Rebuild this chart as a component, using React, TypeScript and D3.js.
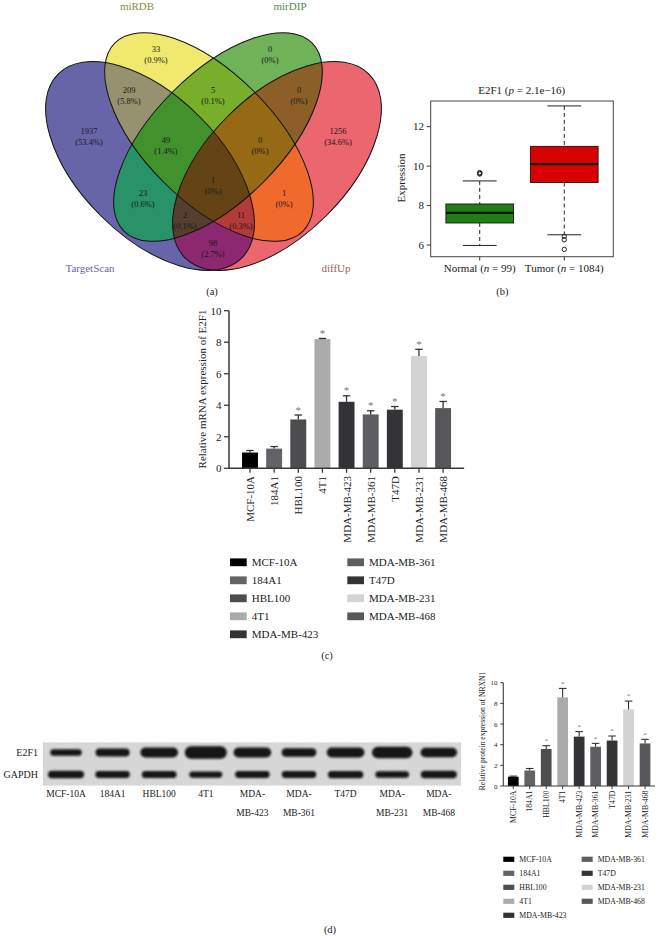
import React from 'react';
import * as d3 from 'd3';

const FONT = "'Liberation Serif', 'Times New Roman', Times, serif";

// ---------------- (a) Venn diagram data ----------------
const vennSetNames = ['TargetScan', 'miRDB', 'mirDIP', 'diffUp'];
const vennRegionKeys = ['A', 'B', 'C', 'D', 'AB', 'AC', 'AD', 'BC', 'BD', 'CD', 'ABC', 'ABD', 'ACD', 'BCD', 'ABCD'];
const vennCounts = [1937, 33, 0, 1256, 209, 23, 98, 5, 1, 0, 49, 11, 2, 0, 1];
const vennPercents = ['53.4%', '0.9%', '0%', '34.6%', '5.8%', '0.6%', '2.7%', '0.1%', '0%', '0%', '1.4%', '0.3%', '0.1%', '0%', '0%'];

// ---------------- (b) box plot data ----------------
const boxGroups = ['Normal', 'Tumor'];
const boxN = [99, 1084];
const boxWhiskerLow = [5.98, 6.52];
const boxQ1 = [7.12, 9.17];
const boxMedian = [7.63, 10.1];
const boxQ3 = [8.08, 11.0];
const boxWhiskerHigh = [9.25, 13.05];
const boxOutliers = [[9.6, 9.63, 9.67], [6.27, 6.44, 5.78]];
const boxTitleGene = 'E2F1';
const boxPValue = '2.1e\u221216';
const boxYTicks = [6, 8, 10, 12];

// ---------------- (c) / (d) bar chart data ----------------
const cellLines = ['MCF-10A', '184A1', 'HBL100', '4T1', 'MDA-MB-423', 'MDA-MB-361', 'T47D', 'MDA-MB-231', 'MDA-MB-468'];
const mrnaMean = [1.0, 1.25, 3.1, 8.2, 4.22, 3.42, 3.72, 7.12, 3.82];
const mrnaSem = [0.13, 0.13, 0.28, 0.04, 0.38, 0.23, 0.2, 0.43, 0.42];
const mrnaSignificant = [false, false, true, true, true, true, true, true, true];
const mrnaYTicks = [0, 2, 4, 6, 8, 10];

const proteinMean = [0.9, 1.5, 3.58, 8.58, 4.78, 3.8, 4.4, 7.42, 4.12];
const proteinSem = [0.06, 0.2, 0.32, 0.87, 0.48, 0.33, 0.44, 0.8, 0.4];
const proteinSignificant = [false, false, true, true, true, true, true, true, true];
const proteinYTicks = [0, 2, 4, 6, 8, 10];

// western blot
const blotRowLabels = ['E2F1', 'GAPDH'];
const blotLaneLabelLines = [['MCF-10A'], ['184A1'], ['HBL100'], ['4T1'], ['MDA-', 'MB-423'], ['MDA-', 'MB-361'], ['T47D'], ['MDA-', 'MB-231'], ['MDA-', 'MB-468']];
const e2f1BandIntensity = [0.52, 0.64, 0.8, 1.0, 0.8, 0.67, 0.8, 0.93, 0.75];
const gapdhBandIntensity = [0.6, 0.55, 0.56, 0.5, 0.55, 0.55, 0.58, 0.52, 0.6];

// ---------------- styles / layout ----------------
const vennColors = ['#6864a8', '#f0e96e', '#70b258', '#eb666e', '#96926f', '#289269', '#8c2870', '#78af2a', '#f0692d', '#8c5f28', '#41912d', '#b43a3a', '#553e2d', '#966914', '#644414'];
const vennSetLabelColors = ['#6a66aa', '#8d8d3a', '#4f8e3e', '#a25a5a'];
const vennGeom = [
  { cx: 150, cy: 166, rx: 130, ry: 70, rot: 45 },
  { cx: 209, cy: 137, rx: 133, ry: 64, rot: 45 },
  { cx: 218, cy: 137, rx: 133, ry: 64, rot: -45 },
  { cx: 277, cy: 166, rx: 130, ry: 70, rot: -45 },
];
const vennLabelPos = [
  [89, 131], [156, 49], [270, 49], [338, 131], [129, 90], [143, 193], [213, 243], [213, 90],
  [284, 193], [299, 90], [166, 140], [241, 215], [185, 215], [260, 140], [213, 180],
];
const vennSetLabelPos = [[90, 272], [137, 9.5], [290, 9.5], [336, 272]];
const barColors = ['#000000', '#636367', '#4d4d50', '#ababab', '#333336', '#5e5e62', '#343437', '#d3d3d3', '#58585c'];
const boxColors = ['#1f7e11', '#d90000'];

export default function App() {
  // ---------- Venn ----------
  const ellipseProps = (i: number) => {
    const g = vennGeom[i];
    return { cx: g.cx, cy: g.cy, rx: g.rx, ry: g.ry, transform: `rotate(${g.rot} ${g.cx} ${g.cy})` };
  };
  const regions = vennRegionKeys.map((key, k) => {
    const idx = key.split('').map((c) => 'ABCD'.indexOf(c));
    let node: any = <ellipse {...ellipseProps(idx[idx.length - 1])} fill={vennColors[k]} />;
    for (let j = idx.length - 2; j >= 0; j--) {
      node = <g clipPath={`url(#venn-clip-${idx[j]})`}>{node}</g>;
    }
    return <g key={key}>{node}</g>;
  });

  // ---------- Box plot ----------
  const bx = d3.scaleLinear().domain([0.42, 2.58]).range([430.7, 613.3]);
  const by = d3.scaleLinear().domain([5.41, 13.3]).range([256.7, 101]);
  const boxHalf = bx(0.4) - bx(0);

  // ---------- mRNA bar chart ----------
  const cx = d3.scaleBand().domain(cellLines).range([229, 464.1]).paddingInner(0.34).paddingOuter(0.54);
  const cy = d3.scaleLinear().domain([0, 10]).range([468.3, 310.7]);

  // ---------- protein bar chart ----------
  const px = d3.scaleBand().domain(cellLines).range([503.3, 655]).paddingInner(0.35).paddingOuter(0.28);
  const py = d3.scaleLinear().domain([0, 10]).range([786, 682.7]);

  // ---------- blot ----------
  const lane = d3.scalePoint().domain(cellLines).range([66, 438.8]);
  const blotRowY = d3.scalePoint().domain(blotRowLabels).range([752.5, 774.5]);
  const bandThick = d3.scaleLinear().domain([0, 1]).range([0, 12.5]);
  const e2f1Width = d3.scaleLinear().domain([0.5, 1]).range([31, 42]);
  const gapdhWidth = d3.scaleLinear().domain([0.5, 0.6]).range([33, 36]);

  const axisColor = '#3a3a3a';

  return (
    <svg width={659} height={940} style={{ position: 'absolute', left: 0, top: 0, background: '#fff' }} fontFamily={FONT}>
      <defs>
        {vennGeom.map((_, i) => (
          <clipPath id={`venn-clip-${i}`} key={i}>
            <ellipse {...ellipseProps(i)} />
          </clipPath>
        ))}
        <filter id="bandBlur" x="-30%" y="-80%" width="160%" height="260%">
          <feGaussianBlur stdDeviation="1.2" />
        </filter>
        <filter id="blotNoise" x="0" y="0" width="100%" height="100%">
          <feTurbulence type="fractalNoise" baseFrequency="0.85" numOctaves="2" seed="7" />
          <feColorMatrix type="saturate" values="0" />
        </filter>
      </defs>

      {/* ================= (a) Venn ================= */}
      <g>
        {regions}
        {vennGeom.map((_, i) => (
          <ellipse key={i} {...ellipseProps(i)} fill="none" stroke="#111" strokeWidth={1} />
        ))}
        {vennRegionKeys.map((key, k) => (
          <g key={key} fontSize={8.5} fill="#1a1a1a" textAnchor="middle">
            <text x={vennLabelPos[k][0]} y={vennLabelPos[k][1] + 3}>{vennCounts[k]}</text>
            <text x={vennLabelPos[k][0]} y={vennLabelPos[k][1] + 13.5}>({vennPercents[k]})</text>
          </g>
        ))}
        {vennSetNames.map((name, i) => (
          <text key={name} x={vennSetLabelPos[i][0]} y={vennSetLabelPos[i][1]} fontSize={11} textAnchor="middle" fill={vennSetLabelColors[i]}>
            {name}
          </text>
        ))}
        <text x={212} y={294.5} fontSize={10.5} textAnchor="middle" fill="#222">(a)</text>
      </g>

      {/* ================= (b) Box plot ================= */}
      <g>
        <text x={521.7} y={94} fontSize={11} textAnchor="middle" fill="#222">
          <tspan>{boxTitleGene} (</tspan>
          <tspan fontStyle="italic">p</tspan>
          <tspan> = {boxPValue})</tspan>
        </text>
        {boxGroups.map((g, i) => {
          const c = bx(i + 1);
          return (
            <g key={g}>
              <line x1={c} x2={c} y1={by(boxWhiskerHigh[i])} y2={by(boxQ3[i])} stroke="#222" strokeDasharray="4,3" />
              <line x1={c} x2={c} y1={by(boxQ1[i])} y2={by(boxWhiskerLow[i])} stroke="#222" strokeDasharray="4,3" />
              <line x1={c - boxHalf / 2} x2={c + boxHalf / 2} y1={by(boxWhiskerHigh[i])} y2={by(boxWhiskerHigh[i])} stroke="#222" />
              <line x1={c - boxHalf / 2} x2={c + boxHalf / 2} y1={by(boxWhiskerLow[i])} y2={by(boxWhiskerLow[i])} stroke="#222" />
              <rect x={c - boxHalf} width={boxHalf * 2} y={by(boxQ3[i])} height={by(boxQ1[i]) - by(boxQ3[i])} fill={boxColors[i]} stroke="#222" />
              <line x1={c - boxHalf} x2={c + boxHalf} y1={by(boxMedian[i])} y2={by(boxMedian[i])} stroke="#111" strokeWidth={2.4} />
              {boxOutliers[i].map((o, j) => (
                <circle key={j} cx={c} cy={by(o)} r={2.2} fill="none" stroke="#222" strokeWidth={1} />
              ))}
              <line x1={c} x2={c} y1={256.7} y2={260.5} stroke="#333" />
              <text x={c} y={272} fontSize={11} textAnchor="middle" fill="#222">
                <tspan>{g} (</tspan>
                <tspan fontStyle="italic">n</tspan>
                <tspan> = {boxN[i]})</tspan>
              </text>
            </g>
          );
        })}
        <rect x={430.7} y={101} width={613.3 - 430.7} height={256.7 - 101} fill="none" stroke="#444" strokeWidth={1} />
        {boxYTicks.map((t) => (
          <g key={t}>
            <line x1={426.7} x2={430.7} y1={by(t)} y2={by(t)} stroke="#333" />
            <text x={424} y={by(t) + 3.8} fontSize={11} textAnchor="end" fill="#222">{t}</text>
          </g>
        ))}
        <text transform="translate(401,178) rotate(-90)" fontSize={11} textAnchor="middle" dominantBaseline="central" fill="#222">Expression</text>
        <text x={502.3} y={294.5} fontSize={10.5} textAnchor="middle" fill="#222">(b)</text>
      </g>

      {/* ================= (c) mRNA bars ================= */}
      <g>
        {cellLines.map((name, i) => {
          const x0 = cx(name)!;
          const w = cx.bandwidth();
          const c = x0 + w / 2;
          const errTop = cy(mrnaMean[i] + mrnaSem[i]);
          return (
            <g key={name}>
              <rect x={x0} width={w} y={cy(mrnaMean[i])} height={cy(0) - cy(mrnaMean[i])} fill={barColors[i]} />
              <line x1={c} x2={c} y1={cy(mrnaMean[i])} y2={errTop} stroke="#333" strokeWidth={1.3} />
              <line x1={c - 3.7} x2={c + 3.7} y1={errTop} y2={errTop} stroke="#333" strokeWidth={1.3} />
              {mrnaSignificant[i] && (
                <text x={c} y={errTop - 1.5} fontSize={11} textAnchor="middle" fill="#777">*</text>
              )}
              <line x1={c} x2={c} y1={cy(0)} y2={cy(0) + 4.5} stroke={axisColor} strokeWidth={1.3} />
              <text transform={`translate(${c},${476}) rotate(-90)`} fontSize={11} textAnchor="end" dominantBaseline="central" fill="#222">{name}</text>
            </g>
          );
        })}
        <line x1={229} x2={464.1} y1={cy(0)} y2={cy(0)} stroke={axisColor} strokeWidth={1.5} />
        <line x1={229} x2={229} y1={cy(0)} y2={cy(10)} stroke={axisColor} strokeWidth={1.5} />
        {mrnaYTicks.map((t) => (
          <g key={t}>
            <line x1={224} x2={229} y1={cy(t)} y2={cy(t)} stroke={axisColor} strokeWidth={1.3} />
            <text x={221.5} y={cy(t) + 3.8} fontSize={11} textAnchor="end" fill="#222">{t}</text>
          </g>
        ))}
        <text transform="translate(201.7,389) rotate(-90)" fontSize={11} textAnchor="middle" dominantBaseline="central" fill="#222">
          Relative mRNA expression of E2F1
        </text>
        {cellLines.map((name, i) => {
          const col = i < 5 ? 0 : 1;
          const row = i < 5 ? i : i - 5;
          const sx = col === 0 ? 230 : 347.3;
          const yc = 562.3 + row * 18;
          return (
            <g key={name}>
              <rect x={sx} y={yc - 3.9} width={16.7} height={7.8} fill={barColors[i]} />
              <text x={sx + 21.7} y={yc + 3.8} fontSize={11} fill="#222">{name}</text>
            </g>
          );
        })}
        <text x={327} y={659} fontSize={10.5} textAnchor="middle" fill="#222">(c)</text>
      </g>

      {/* ================= (d) western blot ================= */}
      <g>
        <rect x={43} y={742.5} width={418} height={43} fill="#d9d9d9" />
        <rect x={43} y={742.5} width={418} height={43} filter="url(#blotNoise)" opacity={0.16} />
        <g filter="url(#bandBlur)">
          {cellLines.map((name, i) => {
            const c = lane(name)!;
            const t1 = bandThick(e2f1BandIntensity[i]);
            const w1 = e2f1Width(e2f1BandIntensity[i]);
            const t2 = bandThick(gapdhBandIntensity[i]);
            const w2 = gapdhWidth(gapdhBandIntensity[i]);
            const y1 = blotRowY('E2F1')!;
            const y2 = blotRowY('GAPDH')!;
            return (
              <g key={name} fill="#141414">
                <rect x={c - w1 / 2} y={y1 - t1 / 2} width={w1} height={t1} rx={t1 / 2} />
                <rect x={c - w2 / 2} y={y2 - t2 / 2} width={w2} height={t2} rx={t2 / 2} />
              </g>
            );
          })}
        </g>
        {blotRowLabels.map((r) => (
          <text key={r} x={38} y={blotRowY(r)! + 3.5} fontSize={10} textAnchor="end" fill="#222">{r}</text>
        ))}
        {cellLines.map((name, i) => (
          <text key={name} x={lane(name)!} fontSize={9.5} textAnchor="middle" fill="#222">
            {blotLaneLabelLines[i].map((ln, j) => (
              <tspan key={j} x={lane(name)!} y={797 + j * 19}>{ln}</tspan>
            ))}
          </text>
        ))}
      </g>

      {/* ================= (d) protein bars ================= */}
      <g>
        {cellLines.map((name, i) => {
          const x0 = px(name)!;
          const w = px.bandwidth();
          const c = x0 + w / 2;
          const errTop = py(proteinMean[i] + proteinSem[i]);
          return (
            <g key={name}>
              <rect x={x0} width={w} y={py(proteinMean[i])} height={py(0) - py(proteinMean[i])} fill={barColors[i]} />
              <line x1={c} x2={c} y1={py(proteinMean[i])} y2={errTop} stroke="#222" strokeWidth={1} />
              <line x1={c - 3.8} x2={c + 3.8} y1={errTop} y2={errTop} stroke="#222" strokeWidth={1} />
              {proteinSignificant[i] && (
                <text x={c} y={errTop - 2.7} fontSize={7} textAnchor="middle" fill="#777">*</text>
              )}
              <line x1={c} x2={c} y1={py(0)} y2={py(0) + 3} stroke={axisColor} strokeWidth={1} />
              <text transform={`translate(${c},${790.5}) rotate(-90)`} fontSize={7.8} textAnchor="end" dominantBaseline="central" fill="#222">{name}</text>
            </g>
          );
        })}
        <line x1={503.3} x2={655} y1={py(0)} y2={py(0)} stroke={axisColor} strokeWidth={1.1} />
        <line x1={503.3} x2={503.3} y1={py(0)} y2={py(10)} stroke={axisColor} strokeWidth={1.1} />
        {proteinYTicks.map((t) => (
          <g key={t}>
            <line x1={500.3} x2={503.3} y1={py(t)} y2={py(t)} stroke={axisColor} strokeWidth={1} />
            <text x={497.5} y={py(t) + 2.5} fontSize={7} textAnchor="end" fill="#222">{t}</text>
          </g>
        ))}
        <text transform="translate(482,731) rotate(-90)" fontSize={7.6} textAnchor="middle" dominantBaseline="central" fill="#222">
          Relative protein expression of NRXN1
        </text>
        {cellLines.map((name, i) => {
          const col = i < 5 ? 0 : 1;
          const row = i < 5 ? i : i - 5;
          const sx = col === 0 ? 503.3 : 581.7;
          const yc = 859.3 + row * 14;
          return (
            <g key={name}>
              <rect x={sx} y={yc - 2.6} width={11} height={5.2} fill={barColors[i]} />
              <text x={sx + 16} y={yc + 2.7} fontSize={7.8} fill="#222">{name}</text>
            </g>
          );
        })}
        <text x={330} y={933} fontSize={10.5} textAnchor="middle" fill="#222">(d)</text>
      </g>
    </svg>
  );
}
